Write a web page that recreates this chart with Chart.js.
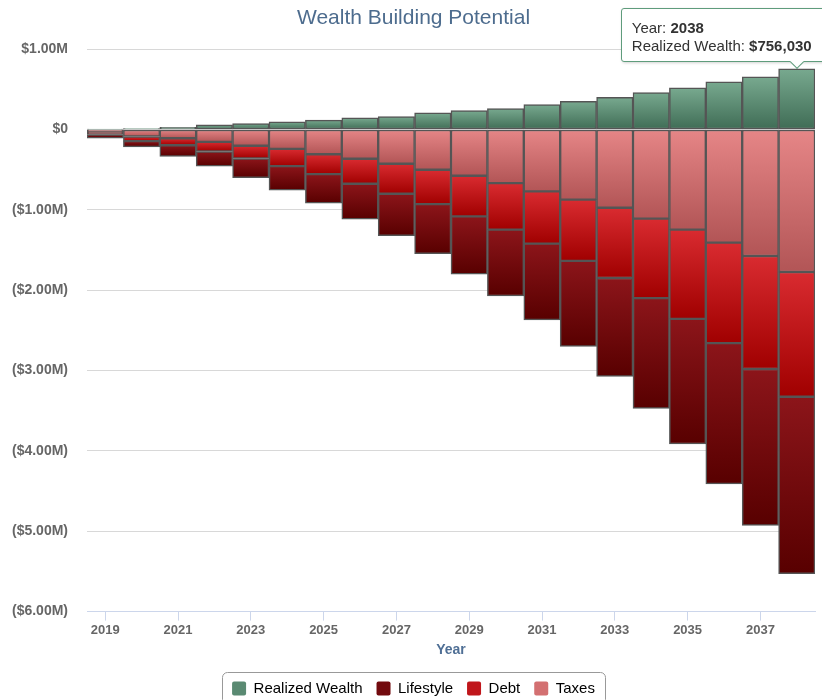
<!DOCTYPE html>
<html>
<head>
<meta charset="utf-8">
<script src="https://cdn.jsdelivr.net/npm/chart.js@4.4.1/dist/chart.umd.min.js"></script>
<style>
  body { margin: 0; overflow: hidden; background: #fff; font-family: 'Liberation Sans', Arial, sans-serif; }
  #wrap { position: relative; width: 822px; height: 712px; }
  #tip {
    position: absolute; display: none; background: #fff; border: 1px solid #5f9c7c;
    border-radius: 3px; padding: 10px 10px 6px 10px; font-size: 15px; line-height: 18px;
    color: #333; white-space: nowrap; box-shadow: 1px 1px 3px rgba(0,0,0,0.18); width: 220px;
  }
  #tip .caret {
    position: absolute; width: 9px; height: 9px; background: #fff;
    border-right: 1px solid #5f9c7c; border-bottom: 1px solid #5f9c7c;
    transform: rotate(45deg); bottom: -6px;
  }
</style>
</head>
<body>
<div id="wrap">
  <canvas id="chart"></canvas>
  <div id="tip"></div>
</div>
<script>
// datos
const years = ['2019','2020','2021','2022','2023','2024','2025','2026','2027','2028',
               '2029','2030','2031','2032','2033','2034','2035','2036','2037','2038'];
const realizedWealth = [6000, 12000, 29000, 58000, 75000, 96000, 118000, 145000, 161000, 207000,
                        236000, 261000, 311000, 352000, 401000, 460000, 518000, 593000, 655000, 756030];
const taxes = [-25000, -87000, -108000, -153000, -202000, -240000, -307000, -364000, -426000, -501000,
               -575000, -667000, -770000, -873000, -973000, -1109000, -1246000, -1407000, -1574000, -1773000];
const debt = [-37000, -58000, -87000, -120000, -158000, -216000, -248000, -311000, -373000, -427000,
              -506000, -579000, -650000, -761000, -875000, -990000, -1111000, -1252000, -1407000, -1553000];
const lifestyle = [-46000, -70000, -140000, -183000, -240000, -298000, -361000, -440000, -522000, -616000,
                   -720000, -826000, -949000, -1065000, -1224000, -1373000, -1557000, -1752000, -1947000, -2202000];

// colores arriba / abajo de cada barra
const greenCols = ['#78a98f', '#3f6c55'];
const taxCols = ['#e68687', '#b25556'];
const debtCols = ['#d92b30', '#a00000'];
const lifeCols = ['#8c151a', '#580000'];

const series = [realizedWealth, taxes, debt, lifestyle];
const font = "'Liberation Sans', Arial, sans-serif";

function fmtMoney(v) {
  if (v === 0) return '$0';
  const s = '$' + (Math.abs(v) / 1e6).toFixed(2) + 'M';
  return v > 0 ? s : '(' + s + ')';
}

function barGradient(cols) {
  return (ctx) => {
    const chart = ctx.chart;
    if (ctx.dataIndex === undefined || !chart.chartArea || !chart.scales.y) return cols[0];
    const j = ctx.dataIndex;
    const v = series[ctx.datasetIndex][j];
    let base = 0;
    for (let k = 0; k < ctx.datasetIndex; k++) {
      const o = series[k][j];
      if (Math.sign(o) === Math.sign(v)) base += o;
    }
    const y = chart.scales.y;
    const a = y.getPixelForValue(Math.max(base, base + v));
    const b = y.getPixelForValue(Math.min(base, base + v));
    if (!isFinite(a) || !isFinite(b) || a === b) return cols[0];
    const g = chart.ctx.createLinearGradient(0, a, 0, b);
    g.addColorStop(0, cols[0]);
    g.addColorStop(1, cols[1]);
    return g;
  };
}

// orden de la leyenda: Realized Wealth, Lifestyle, Debt, Taxes
const legendRank = [0, 3, 2, 1];

const legendBox = {
  id: 'legendBox',
  afterDraw(chart) {
    const boxes = chart.legend.legendHitBoxes;
    if (!boxes || !boxes.length) return;
    const left = Math.min(...boxes.map(b => b.left)) - 10;
    const right = Math.max(...boxes.map(b => b.left + b.width)) + 10;
    const top = Math.min(...boxes.map(b => b.top)) - 9;
    const bottom = Math.max(...boxes.map(b => b.top + b.height)) + 8;
    const c = chart.ctx;
    c.save();
    c.strokeStyle = '#999';
    c.lineWidth = 1;
    c.beginPath();
    c.roundRect(Math.round(left) + 0.5, Math.round(top) + 0.5, Math.round(right - left), Math.round(bottom - top), 5);
    c.stroke();
    c.restore();
  }
};

function externalTip(context) {
  const tip = document.getElementById('tip');
  const model = context.tooltip;
  if (model.opacity === 0 || !model.dataPoints || !model.dataPoints.length) {
    tip.style.display = 'none';
    return;
  }
  const dp = model.dataPoints[0];
  tip.innerHTML = 'Year: <b>' + dp.label + '</b><br>' + dp.dataset.label + ': <b>$' +
    Math.round(dp.raw).toLocaleString('en-US') + '</b><div class="caret"></div>';
  tip.style.display = 'block';
  const left = model.caretX - 176;
  tip.style.left = left + 'px';
  tip.style.top = (model.caretY - 61) + 'px';
  tip.querySelector('.caret').style.left = (model.caretX - left - 6) + 'px';
}

const ctx = document.getElementById('chart').getContext('2d');
const chart = new Chart(ctx, {
  type: 'bar',
  data: {
    labels: years,
    datasets: [
      { label: 'Realized Wealth', data: realizedWealth, backgroundColor: barGradient(greenCols), legendColor: '#5a8a72' },
      { label: 'Taxes', data: taxes, backgroundColor: barGradient(taxCols), legendColor: '#d37071' },
      { label: 'Debt', data: debt, backgroundColor: barGradient(debtCols), legendColor: '#c0161b' },
      { label: 'Lifestyle', data: lifestyle, backgroundColor: barGradient(lifeCols), legendColor: '#720a0e' }
    ]
  },
  options: {
    responsive: true,
    maintainAspectRatio: false,
    animation: false,
    events: [],
    datasets: {
      bar: {
        categoryPercentage: 1,
        barPercentage: 1,
        borderColor: '#555',
        borderWidth: 1.5,
        borderSkipped: false
      }
    },
    layout: { padding: { left: 12, right: 7, top: 0, bottom: 6 } },
    scales: {
      x: {
        stacked: true,
        offset: true,
        grid: { display: true, offset: false, drawOnChartArea: false, drawTicks: true, tickLength: 9, color: '#ccd6eb' },
        border: { display: true, color: '#ccd6eb', width: 1 },
        ticks: {
          autoSkip: false,
          maxRotation: 0,
          padding: 2,
          color: '#666',
          font: { family: font, size: 13, weight: 'bold' },
          callback: (val, i) => (i % 2 === 0 ? years[i] : null)
        },
        title: {
          display: true,
          text: 'Year',
          color: '#4f6f95',
          font: { family: font, size: 14, weight: 'bold' },
          padding: { top: 2, bottom: 8 }
        }
      },
      y: {
        stacked: true,
        min: -6000000,
        max: 1000000,
        afterFit: (scale) => { scale.width = 75; },
        grid: { color: '#d8d8d8', drawTicks: false, lineWidth: 1 },
        border: { display: false },
        ticks: {
          stepSize: 1000000,
          padding: 19,
          color: '#666',
          font: { family: font, size: 14, weight: 'bold' },
          callback: v => fmtMoney(v)
        }
      }
    },
    plugins: {
      title: {
        display: true,
        text: 'Wealth Building Potential',
        color: '#4d6c8e',
        font: { family: font, size: 21, weight: 'normal' },
        padding: { top: 6, bottom: 18 }
      },
      legend: {
        position: 'bottom',
        labels: {
          boxWidth: 14,
          boxHeight: 14,
          padding: 14,
          color: '#333',
          font: { family: font, size: 15 },
          sort: (a, b) => legendRank[a.datasetIndex] - legendRank[b.datasetIndex],
          generateLabels: (ch) => ch.data.datasets.map((ds, i) => ({
            text: ds.label,
            fillStyle: ds.legendColor,
            strokeStyle: ds.legendColor,
            lineWidth: 0,
            datasetIndex: i,
            hidden: false,
            borderRadius: 2
          }))
        }
      },
      tooltip: {
        enabled: false,
        external: externalTip
      }
    }
  },
  plugins: [legendBox]
});

chart.tooltip.setActiveElements([{ datasetIndex: 0, index: 19 }], { x: 0, y: 0 });
chart.update();
</script>
</body>
</html>
